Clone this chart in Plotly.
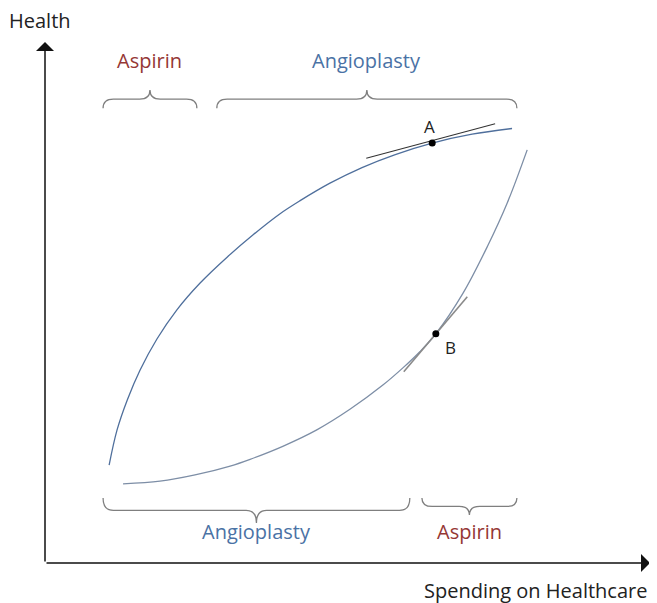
import plotly.graph_objects as go

# ---- data (Spending 0-100 on x, Health 0-100 on y) ----
upper_x = [10.6, 11.9, 13.6, 15.7, 18.5, 21.8, 25.6, 30.1, 34.4, 38.8, 42.1, 47.1, 52.4, 57.9, 64.0, 70.6, 77.2]
upper_y = [18.8, 25.5, 31.3, 37.0, 43.0, 48.6, 53.7, 58.7, 63.0, 67.0, 69.5, 72.9, 75.9, 78.4, 80.6, 82.3, 83.4]

lower_x = [12.9, 19.0, 24.8, 30.6, 33.9, 39.3, 45.0, 50.4, 55.9, 59.2, 62.0, 64.6, 69.1, 73.1, 76.4, 79.7]
lower_y = [15.2, 15.7, 16.9, 18.6, 19.9, 22.4, 25.6, 29.5, 34.2, 37.5, 40.6, 44.0, 51.8, 60.7, 69.1, 79.3]

point_names = ["A", "B"]
point_x = [64.0, 64.6]
point_y = [80.6, 44.0]

tangent_a_x = [53.1, 74.4]
tangent_a_y = [77.7, 84.3]
tangent_b_x = [59.3, 69.8]
tangent_b_y = [36.7, 51.1]

# braces: label, x start, x end, y of ends, y of tip
brace_labels = ["Aspirin", "Angioplasty", "Angioplasty", "Aspirin"]
brace_x0 = [9.6, 28.4, 9.6, 62.3]
brace_x1 = [25.1, 78.0, 60.3, 78.0]
brace_yend = [87.3, 87.3, 12.5, 12.5]
brace_ytip = [90.8, 90.8, 7.7, 9.2]
brace_label_y = [96.4, 96.4, 6.0, 6.0]

x_title = "Spending on Healthcare"
y_title = "Health"

# ---- styles ----
FONT = "Open Sans"
C_ASP = "#953735"
C_ANG = "#4a72a5"
label_color = {"Aspirin": C_ASP, "Angioplasty": C_ANG}

fig = go.Figure()

fig.add_trace(go.Scatter(x=upper_x, y=upper_y, mode="lines",
                         line=dict(color="#4f6f9c", width=1.3, shape="spline", smoothing=1.0),
                         hoverinfo="skip"))
fig.add_trace(go.Scatter(x=lower_x, y=lower_y, mode="lines",
                         line=dict(color="#7d8ea6", width=1.3, shape="spline", smoothing=1.0),
                         hoverinfo="skip"))
fig.add_trace(go.Scatter(x=tangent_a_x, y=tangent_a_y, mode="lines",
                         line=dict(color="#333333", width=1.1), hoverinfo="skip"))
fig.add_trace(go.Scatter(x=tangent_b_x, y=tangent_b_y, mode="lines",
                         line=dict(color="#8a8a8a", width=1.6), hoverinfo="skip"))
fig.add_trace(go.Scatter(x=point_x, y=point_y, mode="markers",
                         marker=dict(color="black", size=7), hoverinfo="skip"))

# point labels
fig.add_annotation(x=point_x[0], y=point_y[0], text=point_names[0], showarrow=False,
                   xshift=-3, yshift=17, font=dict(family=FONT, size=17, color="#222"))
fig.add_annotation(x=point_x[1], y=point_y[1], text=point_names[1], showarrow=False,
                   xshift=15, yshift=-14, font=dict(family=FONT, size=17, color="#222"))

# braces
shapes = []
for lab, x0, x1, ye, yt, ly in zip(brace_labels, brace_x0, brace_x1, brace_yend,
                                   brace_ytip, brace_label_y):
    xm = (x0 + x1) / 2
    ymid = (ye + yt) / 2
    r = 1.7
    path = (f"M {x0},{ye} Q {x0},{ymid} {x0 + r},{ymid} L {xm - r},{ymid} "
            f"Q {xm},{ymid} {xm},{yt} Q {xm},{ymid} {xm + r},{ymid} "
            f"L {x1 - r},{ymid} Q {x1},{ymid} {x1},{ye}")
    shapes.append(dict(type="path", path=path, xref="x", yref="y",
                       line=dict(color="#7f7f7f", width=1.3)))
    fig.add_annotation(x=xm, y=ly, text=lab, showarrow=False,
                       font=dict(family=FONT, size=20, color=label_color[lab]))

# axes arrows
for (tx, ty) in [(0, 100), (100, 0)]:
    fig.add_annotation(x=tx, y=ty, ax=0, ay=0, xref="x", yref="y", axref="x", ayref="y",
                       showarrow=True, arrowhead=1, arrowsize=2.0, arrowwidth=1.5,
                       arrowcolor="#111", text="", standoff=0)

fig.add_annotation(x=-0.009, y=1.042, xref="paper", yref="paper", text=y_title,
                   xanchor="center", yanchor="middle",
                   showarrow=False, font=dict(family=FONT, size=20, color="#222"))
fig.add_annotation(x=0.81, y=-0.052, xref="paper", yref="paper", text=x_title,
                   xanchor="center", yanchor="middle",
                   showarrow=False, font=dict(family=FONT, size=20, color="#222"))

fig.update_layout(
    width=649, height=595,
    margin=dict(l=37, r=7, t=34, b=40),
    paper_bgcolor="white", plot_bgcolor="white",
    showlegend=False, shapes=shapes,
    xaxis=dict(range=[0, 100], visible=False, fixedrange=True),
    yaxis=dict(range=[0, 100], visible=False, fixedrange=True),
)

fig.write_html("out.html")
